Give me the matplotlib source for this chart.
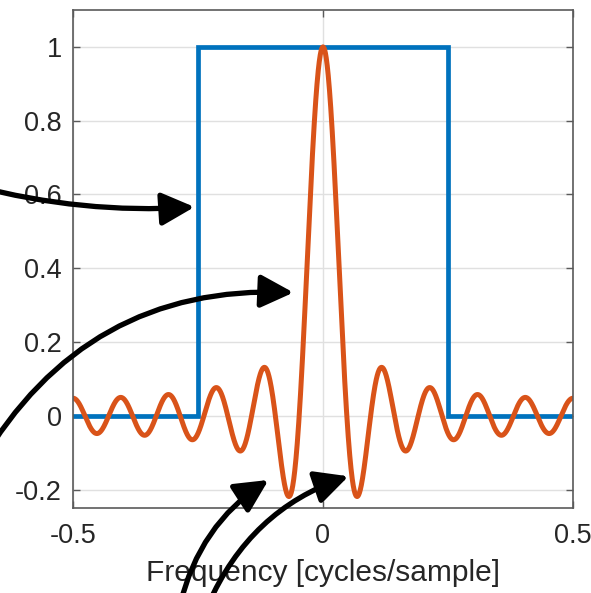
import numpy as np
import matplotlib
matplotlib.use('Agg')
import matplotlib.pyplot as plt

plt.rcParams['font.family'] = ['Liberation Sans', 'DejaVu Sans']

# ideal lowpass response (band edges)
ideal_f = [-0.5, -0.25, -0.25, 0.25, 0.25, 0.5]
ideal_h = [0, 0, 1, 1, 0, 0]

# 21-tap moving-average filter, its DTFT is the orange curve
taps = [1 / 21] * 21

yticks = [-0.2, 0, 0.2, 0.4, 0.6, 0.8, 1]
ytick_labels = ['-0.2', '0', '0.2', '0.4', '0.6', '0.8', '1']
xticks = [-0.5, 0, 0.5]
xtick_labels = ['-0.5', '0', '0.5']

# arrow tips (data) and tails (figure pixels, top-left origin)
arrow_tips = [(-0.257, 0.566), (-0.059, 0.334), (-0.109, -0.174), (0.051, -0.164)]
arrow_tails = [(-25, 186), (-20, 464), (180, 605), (208, 605)]
arrow_rads = [0.08, -0.3, -0.2, -0.22]

W, H = 591, 593
fig = plt.figure(figsize=(W / 100, H / 100), dpi=100)
ax = fig.add_axes([73 / W, 1 - 508 / H, 500 / W, 498 / H])

f = np.linspace(-0.5, 0.5, 2001)
n = np.arange(len(taps)) - (len(taps) - 1) / 2
resp = (np.array(taps)[None, :] * np.cos(2 * np.pi * np.outer(f, n))).sum(axis=1)

ax.plot(ideal_f, ideal_h, color='#0072BD', lw=3.4, solid_joinstyle='miter')
ax.plot(f, resp, color='#D95319', lw=3.6)

ax.set_xlim(-0.5, 0.5)
ax.set_ylim(-0.25, 1.1)
ax.set_xticks(xticks)
ax.set_xticklabels(xtick_labels)
ax.set_yticks(yticks)
ax.set_yticklabels(ytick_labels)
ax.grid(True, color='#e0e0e0', lw=1.0)
ax.set_axisbelow(True)
ax.tick_params(direction='in', length=5, width=1, color='#5a5a5a',
               top=True, right=True, labelsize=19.5, labelcolor='#262626')
ax.tick_params(axis='x', pad=11)
ax.tick_params(axis='y', pad=8)
for s in ax.spines.values():
    s.set_color('#5a5a5a')
    s.set_linewidth(1.2)
ax.set_xlabel('Frequency [cycles/sample]', fontsize=21.5, color='#262626', labelpad=7)

for (tx, ty), (px, py), rad in zip(arrow_tips, arrow_tails, arrow_rads):
    ax.annotate('', xy=(tx, ty), xycoords='data',
                xytext=(px, H - py), textcoords='figure pixels',
                annotation_clip=False, zorder=10,
                arrowprops=dict(arrowstyle='-|>,head_length=1.0,head_width=0.5',
                                mutation_scale=20, lw=3.8, color='black',
                                shrinkA=0, shrinkB=0,
                                connectionstyle=f'arc3,rad={rad}'))

fig.savefig('out.png', dpi=100)
